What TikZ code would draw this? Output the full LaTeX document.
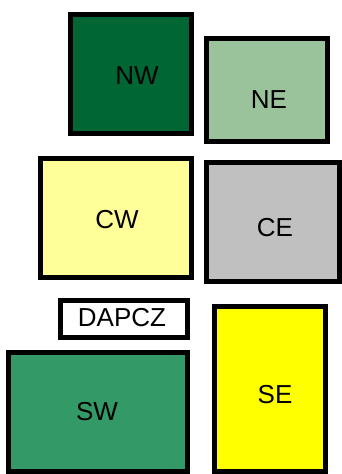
\documentclass[tikz,border=0pt]{standalone}
\usepackage{fontspec}
\setmainfont{Liberation Sans}
\definecolor{nwgreen}{HTML}{006633}
\definecolor{negreen}{HTML}{9BC39B}
\definecolor{cwyellow}{HTML}{FFFF99}
\definecolor{cegray}{HTML}{C0C0C0}
\definecolor{swgreen}{HTML}{339966}
\definecolor{seyellow}{HTML}{FFFF00}
\tikzset{
  region/.style={draw=black, line width=5pt},
  tag/.style={font=\fontsize{26}{30}\selectfont, inner sep=0pt}
}
\begin{document}
\begin{tikzpicture}[x=1pt,y=-1pt]
\useasboundingbox (0,0) rectangle (342,474);
\draw[region, fill=nwgreen] (70.5,14.5) rectangle (191.5,133.5);
\node[tag] (nw) at (137,76) {NW};

\draw[region, fill=negreen] (206.5,38.5) rectangle (327.5,141.5);
\node[tag] (ne) at (269,100) {NE};

\draw[region, fill=cwyellow] (40.5,158.5) rectangle (191.5,277.5);
\node[tag] (cw) at (117,220) {CW};

\draw[region, fill=cegray] (206.5,162.5) rectangle (339.5,281.5);
\node[tag] (ce) at (275,228) {CE};

\draw[region, fill=white] (60.5,300.5) rectangle (187.5,337.5);
\node[tag] (dapcz) at (122,318) {DAPCZ};

\draw[region, fill=swgreen] (8.5,352.5) rectangle (187.5,471.5);
\node[tag] (sw) at (97,412) {SW};

\draw[region, fill=seyellow] (214.5,306.5) rectangle (325.5,471.5);
\node[tag] (se) at (275,395) {SE};
\end{tikzpicture}
\end{document}
